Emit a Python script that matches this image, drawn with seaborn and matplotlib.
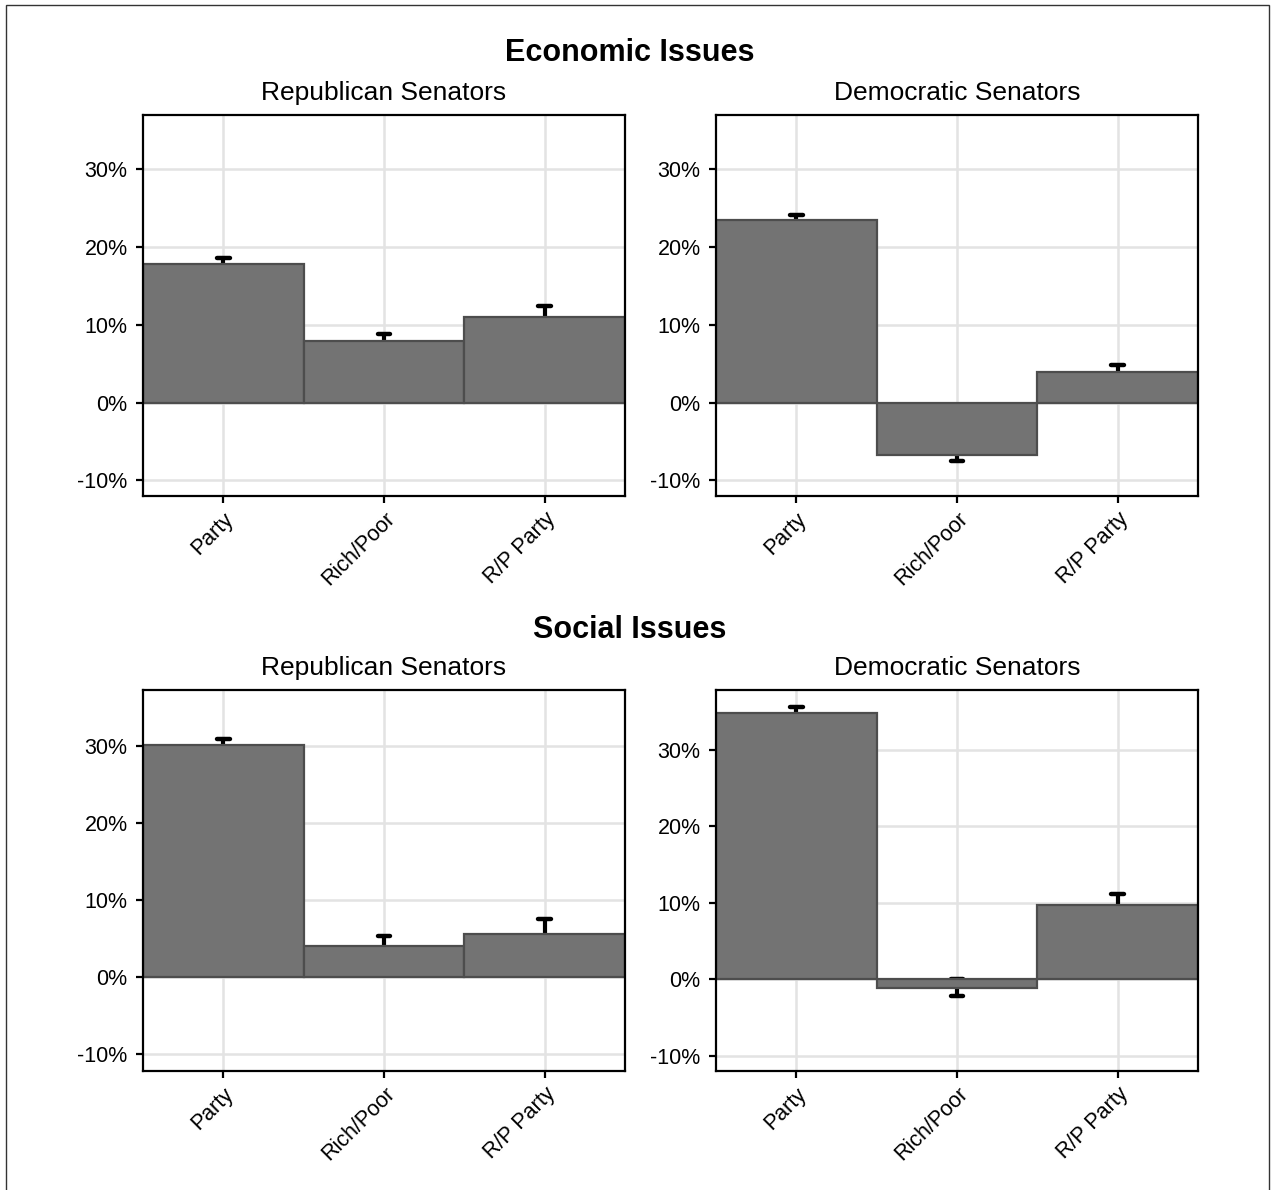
import matplotlib
matplotlib.use("Agg")
import matplotlib.pyplot as plt
import seaborn as sns
import pandas as pd
from matplotlib.ticker import FuncFormatter, FixedLocator
from matplotlib.patches import Rectangle

sns.set_theme(style="white")
plt.rcParams['font.family'] = ['Liberation Sans', 'DejaVu Sans']

categories = ["Party", "Rich/Poor", "R/P Party"]
section_titles = ["Economic Issues", "Social Issues"]
panel_titles = ["Republican Senators", "Democratic Senators"]

econ_rep = [17.9, 7.9, 11.0]
econ_rep_err = [0.7, 0.9, 1.4]
econ_dem = [23.5, -6.7, 4.0]
econ_dem_err = [0.6, 0.8, 0.9]
soc_rep = [30.1, 4.0, 5.6]
soc_rep_err = [0.7, 1.3, 1.9]
soc_dem = [34.8, -1.1, 9.7]
soc_dem_err = [0.8, 1.1, 1.4]

yticks = [-10, 0, 10, 20, 30]
ylims = [(-12, 37), (-12, 37), (-12.2, 37.2), (-12, 37.8)]

panels = [
    (econ_rep, econ_rep_err, panel_titles[0]),
    (econ_dem, econ_dem_err, panel_titles[1]),
    (soc_rep, soc_rep_err, panel_titles[0]),
    (soc_dem, soc_dem_err, panel_titles[1]),
]

W, H = 1273, 1190
fig = plt.figure(figsize=(W / 100, H / 100), dpi=100)
fig.patch.set_facecolor("white")

lefts = [143, 716]
tops = [115, 690]
pw, ph = 482, 381

fig.add_artist(Rectangle((6 / W, -0.02), (1269 - 6) / W, 1 + 0.02 - 5 / H,
                         transform=fig.transFigure, fill=False,
                         edgecolor="#333333", linewidth=1.0))

for i, (vals, errs, ptitle) in enumerate(panels):
    r, c = divmod(i, 2)
    left = lefts[c]
    top = tops[r]
    ax = fig.add_axes([left / W, 1 - (top + ph) / H, pw / W, ph / H])
    df = pd.DataFrame({"cat": categories, "val": vals, "err": errs})
    sns.barplot(data=df, x="cat", y="val", order=categories, width=1.0,
                color="#737373", saturation=1, edgecolor="#4d4d4d",
                linewidth=1.6, errorbar=None, ax=ax, zorder=3)
    for p in ax.patches:
        p.set_zorder(3)
        p.set_facecolor("#737373")
    xs = list(range(len(categories)))
    lo = [v - e for v, e in zip(vals, errs)]
    hi = [v + e for v, e in zip(vals, errs)]
    ax.vlines(xs, lo, hi, color="black", linewidth=3.0, zorder=2,
              capstyle="round")
    for y in (lo, hi):
        ax.hlines(y, [x - 0.04 for x in xs], [x + 0.04 for x in xs],
                  color="black", linewidth=3.2, zorder=2, capstyle="round")
    ax.set_xlim(-0.5, 2.5)
    ax.set_ylim(*ylims[i])
    ax.yaxis.set_major_locator(FixedLocator(yticks))
    ax.yaxis.set_major_formatter(FuncFormatter(lambda v, p: f"{int(round(v))}%"))
    ax.grid(True, color="#e3e3e3", linewidth=1.8, zorder=0)
    ax.set_axisbelow(True)
    ax.set_xlabel("")
    ax.set_ylabel("")
    for s in ax.spines.values():
        s.set_visible(True)
        s.set_color("black")
        s.set_linewidth(1.6)
        s.set_zorder(5)
    ax.tick_params(axis="both", which="both", direction="out", length=5,
                   width=1.6, color="black", labelsize=15.5, labelcolor="black",
                   left=True, bottom=True, pad=4)
    ax.tick_params(axis="y", pad=6)
    ax.set_xticks(xs)
    ax.set_xticklabels(categories, rotation=45, ha="right",
                       rotation_mode="anchor")
    ax.set_title(ptitle, fontsize=19, pad=10.5, color="black")

fig.text(630 / W, 1 - 53 / H, section_titles[0], ha="center", va="center",
         fontsize=22, fontweight="bold", color="black")
fig.text(630 / W, 1 - 630 / H, section_titles[1], ha="center", va="center",
         fontsize=22, fontweight="bold", color="black")

fig.savefig("out.png", dpi=100, facecolor="white")
